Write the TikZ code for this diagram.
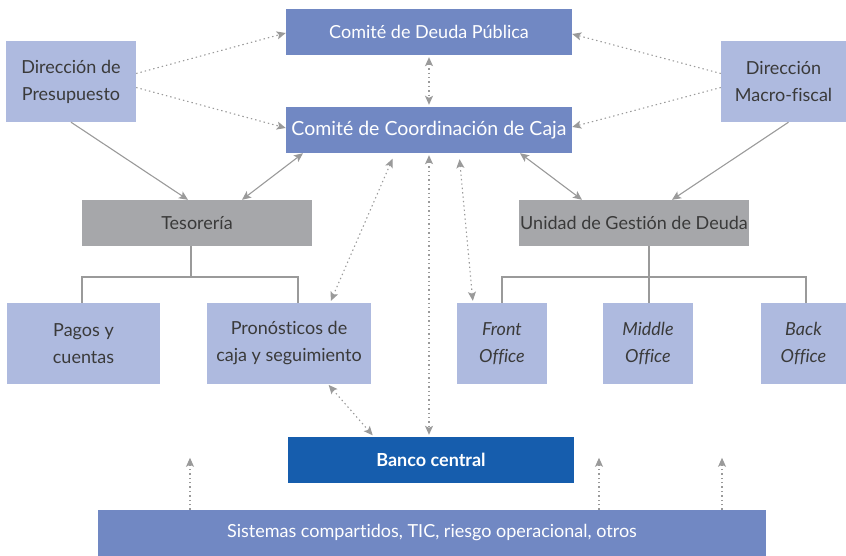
\documentclass[tikz,border=0pt]{standalone}
\usepackage{fontspec}
\setmainfont{Lato}[Ligatures={TeX,NoCommon}]
\usetikzlibrary{arrows.meta}

\definecolor{comiteblue}{HTML}{7188C3}
\definecolor{lightblue}{HTML}{AEBADF}
\definecolor{unitgray}{HTML}{A6A7AA}
\definecolor{bancoblue}{HTML}{165DAD}
\definecolor{linegray}{HTML}{9A9A9A}
\definecolor{textgray}{HTML}{3A3A3A}

\tikzset{
  box/.style={inner sep=0pt, align=center, font=\fontsize{18}{27}\selectfont},
  comite/.style={box, fill=comiteblue, text=white, minimum width=286pt, minimum height=46pt},
  direccion/.style={box, fill=lightblue, text=textgray, minimum height=81pt},
  unidad/.style={box, fill=unitgray, text=textgray, minimum width=230pt, minimum height=46pt},
  hoja/.style={box, fill=lightblue, text=textgray, minimum height=81pt},
  flujo/.style={linegray, line width=1.1pt, -{Stealth[length=9pt,width=8pt,inset=2pt]}},
  dobleflujo/.style={flujo, {Stealth[length=9pt,width=8pt,inset=2pt]}-{Stealth[length=9pt,width=8pt,inset=2pt]}},
  punteado/.style={dash pattern=on 1.4pt off 3pt},
  rama/.style={linegray, line width=1.4pt}
}

\begin{document}
\begin{tikzpicture}[x=1pt,y=-1pt]
  \useasboundingbox (0,0) rectangle (846,556);

  % Committees
  \node[comite] (cdp) at (429,32)  {Comité de Deuda Pública};
  \node[comite, font=\fontsize{19.5}{27}\selectfont] (ccc) at (429,130) {Comité de Coordinación de Caja};

  % Directions
  \node[direccion, minimum width=130pt] (pres)  at (71,81.5)    {Dirección de\\Presupuesto};
  \node[direccion, minimum width=125pt] (macro) at (783.5,81.5) {Dirección\\Macro-fiscal};

  % Units
  \node[unidad] (teso) at (197,223) {Tesorería};
  \node[unidad] (ugd)  at (634,223) {Unidad de Gestión de Deuda};

  % Leaves
  \node[hoja, minimum width=153pt] (pagos)  at (83.5,343.5) {Pagos y\\cuentas};
  \node[hoja, minimum width=164pt] (prono)  at (289,343.5)  {Pronósticos de\\caja y seguimiento};
  \node[hoja, minimum width=90pt]  (front)  at (502,343.5)  {\itshape Front\\\itshape Office};
  \node[hoja, minimum width=90pt]  (middle) at (648,343.5)  {\itshape Middle\\\itshape Office};
  \node[hoja, minimum width=85pt]  (back)   at (803.5,343.5){\itshape Back\\\itshape Office};

  % Central bank and shared systems
  \node[box, fill=bancoblue, text=white, minimum width=286pt, minimum height=46pt,
        font=\fontsize{18}{27}\selectfont\bfseries] (banco) at (431,460) {Banco central};
  \node[comite, minimum width=668pt] (sis) at (432,533) {Sistemas compartidos, TIC, riesgo operacional, otros};

  % Tree branches
  \coordinate (tesoj) at (191,277);
  \coordinate (ugdj)  at (649,277);
  \draw[rama] ([xshift=-6pt]teso.south) -- (tesoj);
  \draw[rama] ([xshift=-1.5pt]pagos.north) |- (tesoj) -| ([xshift=9pt]prono.north);
  \draw[rama] ([xshift=15pt]ugd.south) -- ([xshift=1pt]middle.north);
  \draw[rama] (front.north) |- (ugdj) -| ([xshift=2.5pt]back.north);

  % Dotted links to committees
  \draw[flujo, punteado] ([yshift=8pt]pres.east)   -- ([yshift=-1pt]cdp.west);
  \draw[flujo, punteado] ([yshift=-6pt]pres.east)  -- ([yshift=2pt]ccc.west);
  \draw[flujo, punteado] ([yshift=8pt]macro.west)  -- ([yshift=-2pt]cdp.east);
  \draw[flujo, punteado] ([yshift=-6pt]macro.west) -- ([yshift=3pt]ccc.east);
  \draw[dobleflujo, punteado, shorten <=2pt, shorten >=2pt] (cdp.south) -- (ccc.north);

  % Solid links
  \draw[flujo] (pres.south) -- ([xshift=-9pt]teso.north);
  \draw[dobleflujo] ([xshift=45pt]teso.north) -- ([xshift=-126pt]ccc.south);
  \draw[dobleflujo] ([xshift=91pt]ccc.south)  -- ([xshift=-52pt]ugd.north);
  \draw[flujo] ([xshift=5pt]macro.south) -- ([xshift=38pt]ugd.north);

  % Dotted links from the coordination committee
  \draw[dobleflujo, punteado, shorten <=6pt, shorten >=2pt] ([xshift=-34pt]ccc.south) -- ([xshift=41pt]prono.north);
  \draw[dobleflujo, punteado, shorten <=2pt, shorten >=2pt] (ccc.south) -- ([xshift=-2pt]banco.north);
  \draw[dobleflujo, punteado, shorten <=6pt, shorten >=2pt] ([xshift=30pt]ccc.south) -- ([xshift=-29pt]front.north);
  \draw[dobleflujo, punteado, shorten <=1pt, shorten >=2pt] ([xshift=39pt]prono.south) -- ([xshift=-57pt]banco.north);

  % Shared systems
  \draw[flujo, punteado] ([xshift=-242pt]sis.north) -- ++(0,-52);
  \draw[flujo, punteado] ([xshift=167pt]sis.north)  -- ++(0,-52);
  \draw[flujo, punteado] ([xshift=290pt]sis.north)  -- ++(0,-52);

\end{tikzpicture}
\end{document}
